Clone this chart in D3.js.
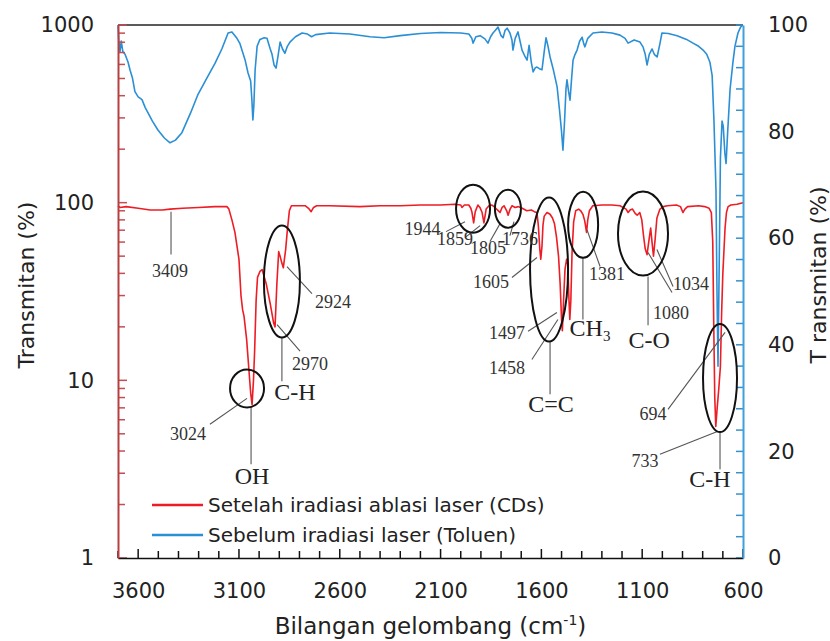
<!DOCTYPE html>
<html lang="en">
<head>
  <meta charset="UTF-8">
  <title>FTIR – Transmitan</title>
  <script src="https://d3js.org/d3.v7.min.js"></script>
  <style>
    body { margin: 0; background: #fff; }
    svg { display: block; }
    .sans { font-family: "DejaVu Sans", sans-serif; fill: #222; }
    .serif { font-family: "Liberation Serif", "Times New Roman", serif; fill: #333; }
  </style>
</head>
<body>
<svg width="830" height="641"></svg>
<script>
  // ---- data ----
  const redWave = [3700, 3690, 3660, 3600, 3540, 3480, 3442, 3380, 3300, 3220, 3160, 3150, 3135, 3120, 3100, 3090, 3082, 3075, 3062, 3052, 3042, 3035, 3028, 3022, 3015, 3008, 2996, 2985, 2965, 2945, 2928, 2921, 2912, 2903, 2896, 2888, 2880, 2868, 2860, 2850, 2840, 2800, 2770, 2755, 2742, 2730, 2715, 2650, 2500, 2400, 2300, 2200, 2100, 2030, 2000, 1994, 1982, 1960, 1950, 1944, 1936, 1928, 1915, 1905, 1894, 1885, 1874, 1860, 1845, 1830, 1818, 1805, 1795, 1785, 1772, 1765, 1755, 1746, 1730, 1715, 1695, 1672, 1650, 1635, 1622, 1615, 1608, 1603, 1597, 1592, 1586, 1572, 1557, 1545, 1535, 1525, 1515, 1507, 1500, 1496, 1490, 1483, 1475, 1469, 1464, 1459, 1454, 1448, 1440, 1430, 1415, 1405, 1394, 1385, 1376, 1370, 1362, 1345, 1300, 1250, 1210, 1180, 1170, 1160, 1148, 1135, 1125, 1112, 1102, 1094, 1085, 1076, 1066, 1058, 1050, 1044, 1036, 1027, 1012, 995, 975, 930, 910, 898, 888, 875, 820, 790, 768, 757, 750, 745, 740, 735, 728, 720, 712, 706, 700, 694, 689, 682, 674, 660, 630, 600];
  const redT = [96, 94, 95, 93, 91, 91, 92, 93, 94, 95, 95, 92, 80, 68, 48, 30, 25, 23, 17, 12, 8.5, 7.3, 10, 15, 28, 38, 41, 42, 35, 27, 21, 20, 35, 53, 50, 46, 43, 55, 70, 90, 96, 96, 96, 93, 89, 94, 96, 96, 95, 96, 96, 97, 97, 98, 97, 94, 97, 97, 93, 88, 77, 89, 97, 94, 88, 77, 92, 96, 97, 94, 91, 88, 94, 96, 90, 85, 92, 96, 94, 95, 93, 90, 91, 89, 88, 74, 55, 48, 57, 75, 84, 88, 86, 82, 76, 64, 50, 35, 22, 19, 28, 42, 48, 45, 30, 22, 28, 52, 78, 90, 92, 90, 86, 79, 68, 80, 90, 96, 97, 97, 96, 92, 88, 91, 92, 87, 85, 88, 80, 66, 55, 51, 62, 72, 58, 50, 62, 82, 92, 95, 96, 97, 95, 88, 92, 95, 96, 95, 93, 88, 60, 20, 8, 5.5, 7, 9, 12, 24, 40, 55, 72, 88, 95, 97, 98, 100];

  const blueWave = [3700, 3696, 3690, 3684, 3676, 3665, 3650, 3640, 3628, 3616, 3600, 3581, 3565, 3551, 3530, 3502, 3470, 3442, 3415, 3383, 3340, 3303, 3260, 3219, 3185, 3154, 3135, 3110, 3095, 3070, 3055, 3042, 3036, 3031, 3026, 3020, 3010, 2996, 2975, 2961, 2945, 2936, 2926, 2916, 2905, 2896, 2884, 2872, 2860, 2847, 2820, 2787, 2760, 2740, 2720, 2650, 2550, 2450, 2380, 2300, 2200, 2100, 2000, 1960, 1945, 1939, 1925, 1904, 1880, 1865, 1852, 1840, 1828, 1815, 1800, 1790, 1780, 1770, 1756, 1746, 1741, 1730, 1716, 1706, 1696, 1680, 1671, 1661, 1650, 1641, 1630, 1622, 1610, 1597, 1586, 1577, 1567, 1557, 1540, 1522, 1510, 1500, 1493, 1485, 1478, 1473, 1465, 1458, 1450, 1443, 1433, 1423, 1410, 1398, 1390, 1384, 1370, 1344, 1300, 1250, 1210, 1185, 1170, 1140, 1111, 1096, 1085, 1076, 1065, 1051, 1040, 1026, 1012, 1002, 970, 927, 880, 848, 820, 798, 780, 764, 753, 744, 734, 729, 724, 718, 712, 704, 698, 690, 684, 676, 664, 650, 640, 625, 612, 600];
  const blueT = [100, 97, 95, 97, 95, 94.5, 93, 91.5, 90, 87.5, 86.5, 86, 84.5, 83.5, 82, 80.3, 78.8, 77.9, 78.4, 79.8, 83.5, 87, 90, 92.8, 95.5, 98.5, 98.7, 97.5, 96.5, 93.5, 91, 89.5, 86, 82.2, 85, 91.5, 96, 97.3, 97.6, 97.5, 95.5, 94.5, 92.5, 91.9, 94.5, 96.8, 95.5, 94.7, 96, 96.8, 97.8, 98.5, 98.3, 97.8, 98.2, 98.5, 98.3, 97.8, 97.6, 98, 98.4, 98.6, 98.5, 98.3, 97.5, 96.6, 97.8, 98, 97.4, 96.6, 97.8, 98.5, 99, 99.6, 98, 97.6, 99, 99.4, 98.5, 97.2, 95.3, 97.5, 98.7, 97, 95.3, 94, 93.4, 96.2, 93, 91.2, 92, 92.1, 91.8, 91.6, 95, 97.6, 96, 94, 91.5, 88.4, 84, 80, 76.5, 82, 88, 89.7, 87.5, 85.9, 90, 93.4, 94.5, 95.3, 97, 97.7, 96.5, 95.9, 97.5, 98.5, 98.7, 98.5, 98.1, 97.5, 96.6, 97.2, 96.8, 95.9, 94.5, 92.5, 94.5, 95.5, 94.5, 94, 96.5, 98.5, 98.4, 98, 97.3, 96.6, 96, 95.3, 94.5, 93, 90.5, 82, 69, 50, 36, 55, 75, 82, 81, 76, 74, 80, 88, 93, 96, 98.5, 99.6, 100];

  const xTickLabels = [3600, 3100, 2600, 2100, 1600, 1100, 600];
  const leftTickLabels = [1, 10, 100, 1000];
  const rightTickLabels = [0, 20, 40, 60, 80, 100];

  const seriesNames = ["Setelah iradiasi ablasi laser (CDs)", "Sebelum iradiasi laser (Toluen)"];
  const seriesColors = ["#ee1c24", "#2b8fd6"];

  // annotations in data units (wavenumber, left-axis transmittance)
  const ellipses = [
    [3060, 9.0, 17, 19], [2887, 36, 18, 56], [1939, 92.5, 17, 24], [1766, 92.5, 13, 19],
    [1562, 42, 19, 72], [1393, 75, 15, 33], [1096, 67, 25, 42], [714, 10.3, 17, 54]
  ];
  const leaders = [
    [3437, 89, 3437, 51], [2862, 43.7, 2738, 30.8], [2911, 20.6, 2797, 14.6], [2887, 17.4, 2887, 9.87],
    [3060, 7.92, 3244, 5.66], [3040, 7.05, 3040, 3.37], [2073, 68.7, 1979, 78.2], [1979, 63.6, 1904, 74.3],
    [1855, 60.4, 1805, 76.2], [1756, 65.3, 1736, 78.2], [1746, 37.9, 1622, 49.1], [1666, 18.9, 1523, 24.1],
    [1647, 13.1, 1518, 22.0], [1557, 16.6, 1557, 8.34], [1394, 49.1, 1394, 22.0], [1374, 70.5, 1309, 43.7],
    [1071, 38.4, 1071, 20.4], [1071, 52.4, 952, 31.2], [1027, 54.5, 947, 33.7], [972, 6.87, 689, 18.6],
    [1012, 3.84, 724, 5.17], [714, 5.10, 714, 3.16]
  ];
  const peakLabels = [
    ["3409", 3442, 38.4], ["2924", 2634, 25.4], ["2970", 2748, 11.4], ["3024", 3353, 4.60],
    ["1944", 2190, 66.1], ["1859", 2029, 58.1], ["1805", 1865, 51.7], ["1736", 1706, 58.1],
    ["1605", 1850, 32.9], ["1497", 1771, 17.0], ["1458", 1771, 10.8], ["1381", 1275, 36.5],
    ["1080", 957, 22.0], ["1034", 858, 32.4], ["694", 1046, 5.96], ["733", 1086, 3.24]
  ];
  const groupLabels = [
    ["C-H", 2822, 7.72], ["OH", 3035, 2.60], ["C=C", 1552, 6.61], ["CH3", 1359, 17.7],
    ["C-O", 1066, 15.3], ["C-H", 764, 2.51]
  ];

  // ---- drawing ----
  const svg = d3.select("svg");
  const margin = { left: 118, right: 87, top: 25, bottom: 83 };
  const W = 830, H = 641;
  const x0 = margin.left, x1 = W - margin.right, y0 = H - margin.bottom, y1 = margin.top;

  const x = d3.scaleLinear().domain([3700, 600]).range([x0, x1]);
  const yL = d3.scaleLog().domain([1, 1000]).range([y0, y1]);
  const yR = d3.scaleLinear().domain([0, 100]).range([y0, y1]);

  // lines
  const redLine = d3.line().x(d => x(d[0])).y(d => yL(d[1]));
  const blueLine = d3.line().x(d => x(d[0])).y(d => yR(d[1]));

  svg.append("path")
    .datum(d3.zip(redWave, redT))
    .attr("fill", "none").attr("stroke", seriesColors[0]).attr("stroke-width", 1.6)
    .attr("stroke-linejoin", "round")
    .attr("d", redLine);

  svg.append("path")
    .datum(d3.zip(blueWave, blueT))
    .attr("fill", "none").attr("stroke", seriesColors[1]).attr("stroke-width", 1.6)
    .attr("stroke-linejoin", "round")
    .attr("d", blueLine);

  // frame
  svg.append("line").attr("x1", x0).attr("x2", x1).attr("y1", y1).attr("y2", y1)
    .attr("stroke", "#5a5a5a").attr("stroke-width", 2);

  // inward tick marks, drawn straight from the scales
  const tickGroup = svg.append("g");
  tickGroup.selectAll("line.xt").data(d3.range(600, 3701, 100)).join("line")
    .attr("class", "xt")
    .attr("x1", d => x(d)).attr("x2", d => x(d))
    .attr("y1", y0).attr("y2", d => y0 - ((3600 - d) % 500 === 0 ? 9 : 7))
    .attr("stroke", "#111").attr("stroke-width", 1.5);

  const leftMinor = [];
  for (let p = 1; p < 1000; p *= 10) for (let k = 2; k <= 9; k++) leftMinor.push(p * k);
  tickGroup.selectAll("line.lt").data(leftMinor.concat(leftTickLabels)).join("line")
    .attr("class", "lt")
    .attr("x1", x0).attr("x2", d => x0 + (leftTickLabels.includes(d) ? 9 : 7))
    .attr("y1", d => yL(d)).attr("y2", d => yL(d))
    .attr("stroke", "#c25050").attr("stroke-width", 1.5);

  tickGroup.selectAll("line.rt").data(d3.range(0, 101, 4)).join("line")
    .attr("class", "rt")
    .attr("x1", x1).attr("x2", x1 - 7)
    .attr("y1", d => yR(d)).attr("y2", d => yR(d))
    .attr("stroke", "#3a8fc8").attr("stroke-width", 1.5);

  // axes (lines and labels)
  const xAxis = svg.append("g").attr("transform", `translate(0,${y0})`)
    .call(d3.axisBottom(x).tickValues(xTickLabels).tickSize(0).tickPadding(25).tickFormat(d3.format("d")));
  xAxis.select(".domain").attr("stroke", "#111").attr("stroke-width", 1.6);

  const lAxis = svg.append("g").attr("transform", `translate(${x0},0)`)
    .call(d3.axisLeft(yL).tickValues(leftTickLabels).tickSize(0).tickPadding(24).tickFormat(d3.format("d")));
  lAxis.select(".domain").attr("stroke", "#b5403f").attr("stroke-width", 2);

  const rAxis = svg.append("g").attr("transform", `translate(${x1},0)`)
    .call(d3.axisRight(yR).tickValues(rightTickLabels).tickSize(0).tickPadding(25));
  rAxis.select(".domain").attr("stroke", "#3fa0dc").attr("stroke-width", 2);

  [xAxis, lAxis, rAxis].forEach(g => g.selectAll(".tick text").attr("class", "sans").style("font-size", "21px"));

  // axis titles
  svg.append("text").attr("class", "sans")
    .attr("transform", "translate(34,285) rotate(-90)")
    .attr("text-anchor", "middle").style("font-size", "22px")
    .text("Transmitan (%)");

  svg.append("text").attr("class", "sans")
    .attr("transform", "translate(826,275) rotate(-90)")
    .attr("text-anchor", "middle").style("font-size", "22px")
    .text("T ransmitan (%)");

  const xt = svg.append("text").attr("class", "sans")
    .attr("x", (x0 + x1) / 2).attr("y", 634)
    .attr("text-anchor", "middle").style("font-size", "23px");
  xt.append("tspan").text("Bilangan gelombang (cm");
  xt.append("tspan").attr("dy", -9).style("font-size", "14px").text("-1");
  xt.append("tspan").attr("dy", 9).text(")");

  // annotations
  const ann = svg.append("g");
  ann.selectAll("line").data(leaders).join("line")
    .attr("x1", d => x(d[0])).attr("y1", d => yL(d[1]))
    .attr("x2", d => x(d[2])).attr("y2", d => yL(d[3]))
    .attr("stroke", "#555").attr("stroke-width", 1.1);

  ann.selectAll("ellipse").data(ellipses).join("ellipse")
    .attr("cx", d => x(d[0])).attr("cy", d => yL(d[1]))
    .attr("rx", d => d[2]).attr("ry", d => d[3])
    .attr("fill", "none").attr("stroke", "#111").attr("stroke-width", 2);

  ann.selectAll("text.peak").data(peakLabels).join("text")
    .attr("class", "serif peak")
    .attr("x", d => x(d[1])).attr("y", d => yL(d[2]))
    .attr("text-anchor", "middle").style("font-size", "18px")
    .text(d => d[0]);

  const groups = ann.selectAll("text.group").data(groupLabels).join("text")
    .attr("class", "serif group")
    .attr("x", d => x(d[1])).attr("y", d => yL(d[2]))
    .attr("text-anchor", "middle").style("font-size", "24px").style("fill", "#222");
  groups.each(function(d) {
    const t = d3.select(this);
    if (d[0] === "CH3") {
      t.append("tspan").text("CH");
      t.append("tspan").attr("dy", 5).style("font-size", "15px").text("3");
    } else {
      t.text(d[0]);
    }
  });

  // legend
  const legend = svg.append("g").attr("transform", "translate(152,505)");
  seriesNames.forEach((name, i) => {
    const row = legend.append("g").attr("transform", `translate(0,${i * 30})`);
    row.append("line").attr("x1", 0).attr("x2", 51).attr("y1", 0).attr("y2", 0)
      .attr("stroke", seriesColors[i]).attr("stroke-width", 2.5);
    row.append("text").attr("class", "sans").attr("x", 56).attr("y", 0).attr("dy", "0.36em")
      .style("font-size", "20px").text(name);
  });
</script>
</body>
</html>
